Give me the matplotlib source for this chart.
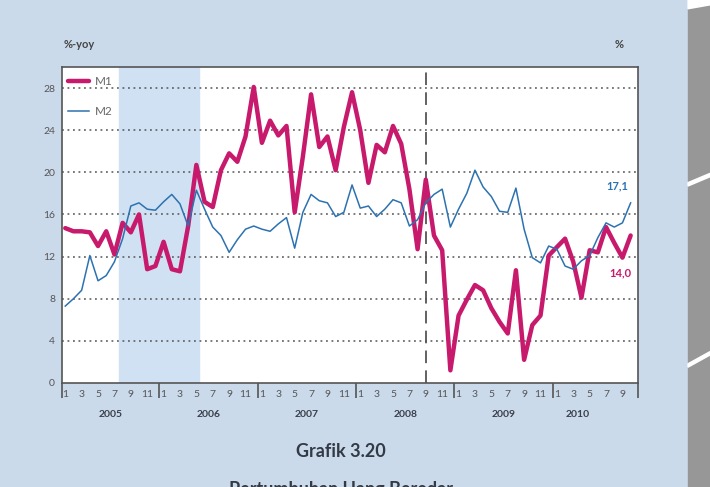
import numpy as np
import matplotlib
matplotlib.use("Agg")
import matplotlib.pyplot as plt
from matplotlib.patches import Rectangle, Polygon

plt.rcParams['font.family'] = ['Lato', 'DejaVu Sans']

# monthly growth, Jan 2005 .. Oct 2010 (%-yoy)
m1 = [14.7, 14.4, 14.4, 14.3, 13.0, 14.4, 12.2, 15.2, 14.3, 16.0, 10.8, 11.1,
      13.4, 10.8, 10.6, 14.9, 20.7, 17.2, 16.7, 20.2, 21.8, 21.0, 23.4, 28.1,
      22.8, 24.9, 23.5, 24.4, 16.2, 21.5, 27.4, 22.4, 23.4, 20.2, 24.3, 27.6,
      24.0, 19.0, 22.6, 21.9, 24.4, 22.7, 18.4, 12.7, 19.3, 14.0, 12.6, 1.2,
      6.4, 7.9, 9.3, 8.8, 7.1, 5.8, 4.7, 10.7, 2.2, 5.5, 6.4, 12.1,
      12.9, 13.7, 11.5, 8.1, 12.6, 12.4, 14.8, 13.3, 11.9, 14.0]
m2 = [7.3, 8.0, 8.8, 12.1, 9.7, 10.2, 11.5, 13.7, 16.8, 17.1, 16.5, 16.4,
      17.2, 17.9, 17.0, 14.9, 18.3, 16.5, 14.8, 14.0, 12.4, 13.6, 14.6, 14.9,
      14.6, 14.4, 15.1, 15.7, 12.8, 16.2, 17.9, 17.3, 17.1, 15.8, 16.2, 18.8,
      16.6, 16.8, 15.8, 16.5, 17.4, 17.1, 14.9, 15.5, 17.1, 17.9, 18.4, 14.8,
      16.5, 18.0, 20.2, 18.6, 17.7, 16.3, 16.2, 18.5, 14.6, 11.9, 11.4, 13.0,
      12.7, 11.1, 10.8, 11.6, 12.1, 13.8, 15.2, 14.8, 15.2, 17.1]
years = ["2005", "2006", "2007", "2008", "2009", "2010"]
month_labels = ["1", "3", "5", "7", "9", "11"]

BG = "#cbdaeb"
C_M1 = "#c81a6c"
C_M2 = "#2d72b0"
GREY = "#555555"

fig = plt.figure(figsize=(7.1, 4.87), dpi=100, facecolor=BG)
ax = fig.add_axes([0.0873, 0.2136, 0.8113, 0.6489])
ax.set_facecolor("white")

x = np.arange(len(m1))
ax.set_xlim(-0.4, 69.9)
ax.set_ylim(0, 30)

# shaded period and crisis marker
ax.axvspan(6.6, 16.3, color="#cfe1f2", zorder=0)
ax.axvline(44, color=GREY, lw=1.3, ls=(0, (7, 4)), zorder=1)

# grid
for v in range(4, 29, 4):
    ax.axhline(v, color=GREY, lw=1.1, ls=(0, (1.2, 2.4)), zorder=1)

ax.plot(x, m1, color=C_M1, lw=3.2, solid_joinstyle="round", solid_capstyle="round",
        zorder=3, label="M1")
ax.plot(x, m2, color=C_M2, lw=1.1, zorder=4, label="M2")

# y axis
ax.set_yticks(range(0, 29, 4))
ax.tick_params(axis="y", length=0, labelsize=7.5, labelcolor=GREY, pad=5)

# x axis: odd months labelled, year boundaries as long ticks
pos = [i for i in x if i % 2 == 0 and i <= 68]
ax.set_xticks(pos)
ax.set_xticklabels([month_labels[(i % 12) // 2] for i in pos])
ax.tick_params(axis="x", which="major", length=0, labelsize=7.5, labelcolor=GREY, pad=5)
ax.set_xticks([-0.4] + [12 * k - 0.5 for k in range(1, 6)] + [69.9], minor=True)
ax.tick_params(axis="x", which="minor", length=11, width=1.2, color=GREY, direction="out")

for k, yr in enumerate(years):
    cx = 12 * k + 5.5 if k < 5 else 62.6
    ax.text(cx, -0.085, yr, transform=ax.get_xaxis_transform(), ha="center", va="top",
            fontsize=7.5, fontweight="bold", color="#3a3f4a")

for s in ax.spines.values():
    s.set_color(GREY)
    s.set_linewidth(1.2)

ax.legend(loc="upper left", bbox_to_anchor=(-0.008, 1.005), frameon=False, fontsize=8.5,
          handlelength=1.8, handletextpad=0.5, labelspacing=1.6, labelcolor="#666666")

ax.text(67.4, 18.7, "17,1", color=C_M2, fontsize=8, fontweight="bold", ha="center", va="center")
ax.text(67.7, 10.5, "14,0", color=C_M1, fontsize=8, fontweight="bold", ha="center", va="center")

fig.text(0.089, 0.908, "%-yoy", fontsize=8, fontweight="bold", color="#444444", va="center")
fig.text(0.866, 0.908, "%", fontsize=8, fontweight="bold", color="#444444", va="center")

fig.text(0.48, 0.072, "Grafik 3.20", fontsize=13, fontweight="bold", color="#333a45",
         ha="center", va="center")
fig.text(0.48, 0.012, "Pertumbuhan Uang Beredar", fontsize=13, fontweight="bold",
         color="#333a45", ha="center", va="top")

# grey side panel with white streaks
fig.add_artist(Rectangle((0.969, 0), 0.031, 1, transform=fig.transFigure,
                         color="#979797", zorder=0))
fig.add_artist(Polygon([(0.969, 1.0), (0.969, 0.982), (1.0, 0.99), (1.0, 1.0)],
                       closed=True, transform=fig.transFigure, color="white", zorder=0))
for yl, yr in [(0.618, 0.637), (0.246, 0.271)]:
    fig.add_artist(Polygon([(0.969, yl), (1.0, yr), (1.0, yr + 0.007), (0.969, yl + 0.007)],
                           closed=True, transform=fig.transFigure, color="white", zorder=0))

fig.savefig("out.png", dpi=100, facecolor=BG)
